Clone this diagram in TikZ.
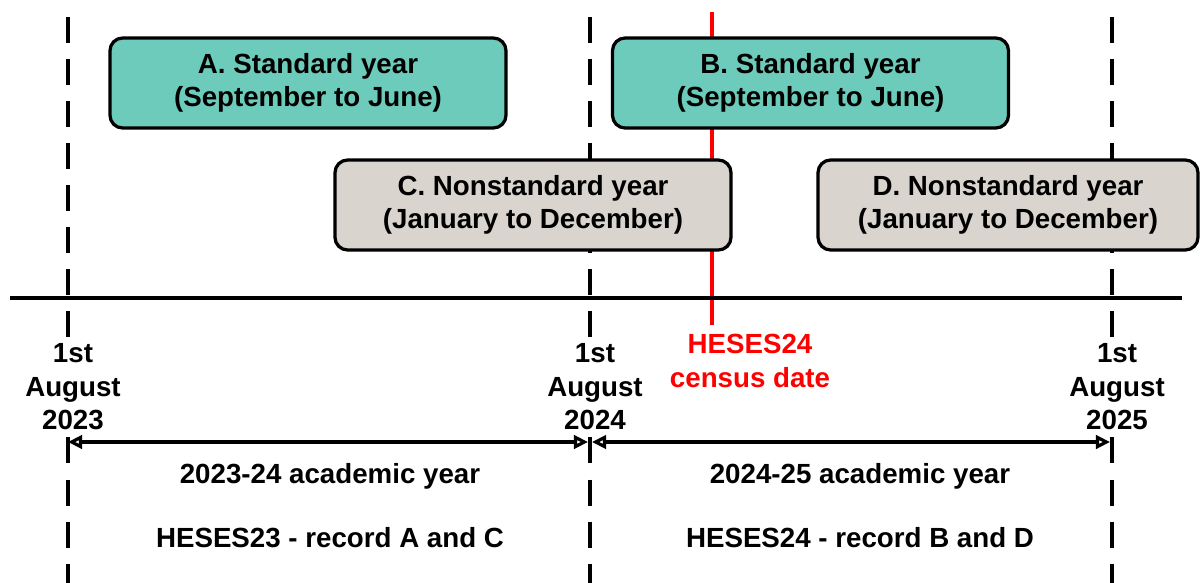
\documentclass[tikz,border=0pt]{standalone}
\usepackage{fontspec}
\setmainfont{Liberation Sans}
\usetikzlibrary{arrows.meta,positioning}
\definecolor{teal1}{HTML}{6DCBBB}
\definecolor{grey1}{HTML}{D9D4CE}
\definecolor{red1}{HTML}{FF0000}
\begin{document}
\begin{tikzpicture}[x=0.025cm,y=-0.025cm,
 every node/.style={font=\fontsize{19.7}{23.8}\selectfont\bfseries,align=center},
 yb/.style={draw,line width=2.3pt,rounded corners=9pt,minimum width=396*0.025cm,minimum height=90*0.025cm,inner sep=0pt},
 dl/.style={line width=2.3pt,dash pattern=on 18.5pt off 11.4pt},
 lab/.style={fill=white,inner sep=1pt},
 arr/.style={{Triangle[open,length=10pt,width=9.5pt]}-{Triangle[open,length=10pt,width=9.5pt]},line width=2.3pt}]
\useasboundingbox (0,0) rectangle (1200,583);
% year boundaries
\foreach \n/\x in {23/68,24/590,25/1112}{
 \coordinate (t\n) at (\x,17);
 \coordinate (b\n) at (\x,583);
 \draw[dl] (t\n)--(b\n);}
% census date
\coordinate (ct) at (712,12);
\coordinate (cb) at (712,325);
\draw[red1,line width=2.3pt] (ct)--(cb);
% timeline
\coordinate (tl) at (10,298);
\coordinate (tr) at (1182,298);
\draw[line width=2.3pt] (tl)--(tr);
% reporting years
\node[yb,fill=teal1] (A) at (308,83) {A. Standard year\\(September to June)};
\node[yb,fill=teal1] (B) at (810.5,83) {B. Standard year\\(September to June)};
\node[yb,fill=grey1] (C) at (533,205) {C. Nonstandard year\\(January to December)};
\node[yb,fill=grey1,minimum width=380*0.025cm] (D) at (1008,205) {D. Nonstandard year\\(January to December)};
% dates
\node[lab] (aug23) at (73,387) {1st\\August\\2023};
\node[lab] (aug24) at (595,387) {1st\\August\\2024};
\node[lab] (aug25) at (1117,387) {1st\\August\\2025};
\node[lab,text=red1] (cd) at (750,361) {HESES24\\census date};
% academic years
\coordinate (a23) at (68,442);
\coordinate (a24l) at (588,442);
\coordinate (a24r) at (592,442);
\coordinate (a25) at (1110,442);
\draw[arr] (a23)--(a24l);
\draw[arr] (a24r)--(a25);
\node (ay1) at (330,476) {2023-24 academic year};
\node (ay2) at (860,476) {2024-25 academic year};
\node (r1) at (330,538) {HESES23 - record A and C};
\node (r2) at (860,538) {HESES24 - record B and D};
\end{tikzpicture}
\end{document}
